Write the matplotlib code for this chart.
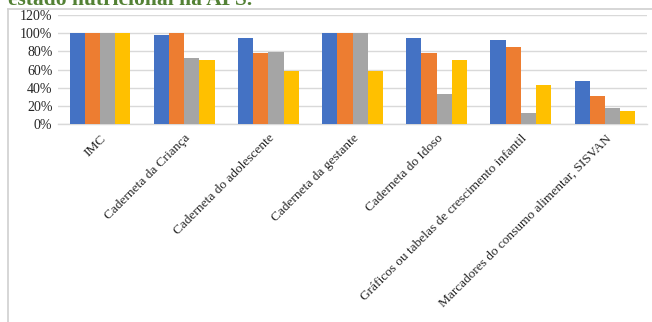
import matplotlib
matplotlib.use("Agg")
import matplotlib.pyplot as plt
import numpy as np
from matplotlib.lines import Line2D

categories = ["IMC", "Caderneta da Criança", "Caderneta do adolescente",
              "Caderneta da gestante", "Caderneta do Idoso",
              "Gráficos ou tabelas de crescimento infantil",
              "Marcadores do consumo alimentar, SISVAN"]
series_blue = [100, 98, 95, 100, 94.5, 92, 47]
series_orange = [100, 100, 78, 100, 78, 84.5, 31]
series_gray = [100, 73, 79, 100, 33, 12, 18]
series_yellow = [100, 71, 58, 58, 71, 43, 14]
yticks = [0, 20, 40, 60, 80, 100, 120]
title = "estado nutricional na APS."

colors = ["#4472C4", "#ED7D31", "#A5A5A5", "#FFC000"]
W, H = 652, 322
fig = plt.figure(figsize=(W / 100, H / 100), dpi=100)
fig.patch.set_facecolor("white")

ax = fig.add_axes([58 / W, 1 - 124 / H, (647 - 58) / W, (124 - 15) / H])
x = np.arange(len(categories))
bw = 0.18
allser = [series_blue, series_orange, series_gray, series_yellow]
for i, (s, c) in enumerate(zip(allser, colors)):
    ax.bar(x + (i - 1.5) * bw, s, width=bw, color=c, zorder=3)

ax.set_xlim(-0.5, len(categories) - 0.5)
ax.set_ylim(0, 120)
ax.set_yticks(yticks)
ax.set_yticklabels([f"{v}%" for v in yticks], family="Liberation Serif",
                   fontsize=10, color="#262626")
ax.set_xticks(x)
ax.set_xticklabels(categories, rotation=45, ha="right", rotation_mode="anchor",
                   family="Liberation Serif", fontsize=9.6, color="#262626")
ax.tick_params(axis="both", length=0)
ax.tick_params(axis="x", pad=6)
ax.tick_params(axis="y", pad=4)
ax.grid(axis="y", color="#D9D9D9", linewidth=1, zorder=0)
for sp in ["top", "right", "left"]:
    ax.spines[sp].set_visible(False)
ax.spines["bottom"].set_color("#D9D9D9")
ax.spines["bottom"].set_linewidth(1)

# chart frame
fig.add_artist(Line2D([8 / W, 8 / W], [0, 1 - 8.5 / H], transform=fig.transFigure,
                      color="#D0D0D0", linewidth=1.2))
fig.add_artist(Line2D([8 / W, 1], [1 - 8.5 / H, 1 - 8.5 / H], transform=fig.transFigure,
                      color="#D0D0D0", linewidth=1.2))

fig.text(8 / W, 1 - 5 / H, title, family="Liberation Serif", fontweight="bold",
         fontsize=15.5, color="#538135", va="baseline", ha="left")

fig.savefig("out.png", dpi=100)
